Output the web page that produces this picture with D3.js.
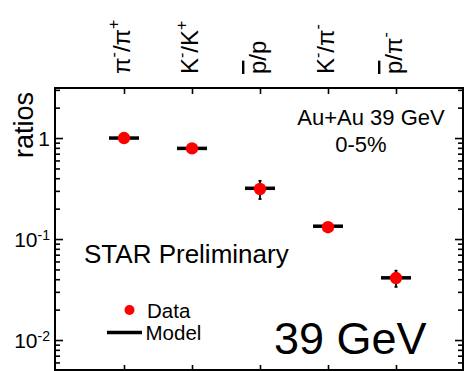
<!DOCTYPE html>
<html><head><meta charset="utf-8">
<script src="https://cdn.jsdelivr.net/npm/d3@7"></script>
<style>
html,body{margin:0;padding:0;background:#fff;}
svg{display:block;font-family:"Liberation Sans",Arial,Helvetica,sans-serif;}
</style></head><body>
<svg id="chart" width="465" height="371"></svg>
<script>
// Particle ratios, Au+Au 39 GeV, 0-5% central
const categories = ["pim_pip", "km_kp", "pbar_p", "km_pim", "pbar_pim"];
const categoryLabels = ["π^{-}/π^{+}", "K^{-}/K^{+}", "#bar{p}/p", "K^{-}/π^{-}", "#bar{p}/π^{-}"];
const dataValues = [1.0, 0.79, 0.313, 0.131, 0.0411];
const dataErrors = [0.02, 0.015, 0.064, 0.006, 0.0075];
const modelValues = [1.0, 0.79, 0.318, 0.134, 0.0413];
const yMajorTicks = [1, 0.1, 0.01];
const yTickLabels = ["1", "10^{-1}", "10^{-2}"];

const plot = {left: 55, right: 463, top: 88, bottom: 370};

const x = d3.scalePoint().domain(categories).range([56, 464]).padding(1);
const y = d3.scaleLog().domain([0.00505, 3.13]).range([plot.bottom, plot.top]);

// minor ticks: 2..9 within each decade inside the domain
const yMinorTicks = [];
for (let e = -3; e <= 0; e++) {
  for (let m = 2; m <= 9; m++) {
    const v = m * Math.pow(10, e);
    if (v >= y.domain()[0] && v <= y.domain()[1]) yMinorTicks.push(v);
  }
}

const svg = d3.select("#chart");

// split "a^{b}#bar{c}" markup into plain / superscript / overlined runs
function parseLabel(s) {
  const out = [];
  const re = /\^\{([^}]*)\}|#bar\{([^}]*)\}|([^\^#]+)/g;
  let m;
  while ((m = re.exec(s)) !== null) {
    if (m[1] !== undefined) out.push({t: m[1], sup: true});
    else if (m[2] !== undefined) out.push({t: m[2], bar: true});
    else out.push({t: m[3]});
  }
  return out;
}
function writeRich(textSel, label, supSize, supRise) {
  let raised = false;
  parseLabel(label).forEach(seg => {
    const ts = textSel.append("tspan").text(seg.t);
    if (seg.sup) {
      ts.attr("font-size", supSize).attr("dy", raised ? 0 : -supRise);
      raised = true;
    } else {
      if (raised) { ts.attr("dy", supRise); raised = false; }
      if (seg.bar) ts.style("text-decoration", "overline");
    }
  });
}

function styleAxis(g) {
  g.select(".domain").remove();
  g.selectAll(".tick line").attr("stroke", "#000").attr("stroke-width", 1.6);
  g.selectAll(".tick text").remove();
}

// y axes, ticks pointing inward on both sides
svg.append("g").attr("transform", `translate(${plot.left},0)`)
  .call(d3.axisLeft(y).tickValues(yMajorTicks).tickSize(-8)).call(styleAxis);
svg.append("g").attr("transform", `translate(${plot.left},0)`)
  .call(d3.axisLeft(y).tickValues(yMinorTicks).tickSize(-5)).call(styleAxis);
svg.append("g").attr("transform", `translate(${plot.right},0)`)
  .call(d3.axisRight(y).tickValues(yMajorTicks).tickSize(-8)).call(styleAxis);
svg.append("g").attr("transform", `translate(${plot.right},0)`)
  .call(d3.axisRight(y).tickValues(yMinorTicks).tickSize(-5)).call(styleAxis);

// x axes top and bottom
svg.append("g").attr("transform", `translate(0,${plot.top})`)
  .call(d3.axisTop(x).tickSize(-6)).call(styleAxis);
svg.append("g").attr("transform", `translate(0,${plot.bottom})`)
  .call(d3.axisBottom(x).tickSize(-5)).call(styleAxis);

// frame
svg.append("rect")
  .attr("x", plot.left).attr("y", plot.top)
  .attr("width", plot.right - plot.left).attr("height", plot.bottom - plot.top)
  .attr("fill", "none").attr("stroke", "#000").attr("stroke-width", 2);

// y tick labels
yMajorTicks.forEach((v, i) => {
  const t = svg.append("text")
    .attr("x", 50).attr("y", y(v) + 7.5)
    .attr("text-anchor", "end").attr("font-size", 21).attr("fill", "#000");
  writeRich(t, yTickLabels[i], 14, 7);
});

// y axis title
svg.append("text")
  .attr("transform", "translate(33,125) rotate(-90)")
  .attr("text-anchor", "middle").attr("font-size", 27).text("ratios");

// category labels along the top, rotated
categories.forEach((c, i) => {
  const t = svg.append("text")
    .attr("transform", `translate(${x(c) + 6},74) rotate(-90)`)
    .attr("text-anchor", "start").attr("font-size", 24).attr("fill", "#000");
  writeRich(t, categoryLabels[i], 16, 11);
});

// model values: short horizontal bars
svg.append("g").selectAll("line").data(categories).join("line")
  .attr("x1", c => x(c) - 15).attr("x2", c => x(c) + 15)
  .attr("y1", (c, i) => y(modelValues[i])).attr("y2", (c, i) => y(modelValues[i]))
  .attr("stroke", "#000").attr("stroke-width", 3.5);

// data error bars
const eb = svg.append("g").attr("stroke", "#000");
categories.forEach((c, i) => {
  const lo = y(dataValues[i] - dataErrors[i]), hi = y(dataValues[i] + dataErrors[i]);
  eb.append("line").attr("x1", x(c)).attr("x2", x(c)).attr("y1", lo).attr("y2", hi).attr("stroke-width", 1.8);
  eb.append("line").attr("x1", x(c) - 1.5).attr("x2", x(c) + 1.5).attr("y1", lo).attr("y2", lo).attr("stroke-width", 1.8);
  eb.append("line").attr("x1", x(c) - 1.5).attr("x2", x(c) + 1.5).attr("y1", hi).attr("y2", hi).attr("stroke-width", 1.8);
});

// data markers
svg.append("g").selectAll("circle").data(categories).join("circle")
  .attr("cx", c => x(c)).attr("cy", (c, i) => y(dataValues[i]))
  .attr("r", 6.2).attr("fill", "#ff0000");

// annotations
svg.append("text").attr("x", 371).attr("y", 125).attr("text-anchor", "middle")
  .attr("font-size", 22).text("Au+Au 39 GeV");
svg.append("text").attr("x", 361).attr("y", 152).attr("text-anchor", "middle")
  .attr("font-size", 22).text("0-5%");
svg.append("text").attr("x", 84).attr("y", 263)
  .attr("font-size", 26).text("STAR Preliminary");
svg.append("text").attr("x", 274).attr("y", 354)
  .attr("font-size", 45).text("39 GeV");

// legend
const legend = svg.append("g");
legend.append("circle").attr("cx", 129.5).attr("cy", 310).attr("r", 5).attr("fill", "#ff0000");
legend.append("text").attr("x", 147).attr("y", 317.5).attr("font-size", 20.5).text("Data");
legend.append("line").attr("x1", 107).attr("x2", 142).attr("y1", 332.5).attr("y2", 332.5)
  .attr("stroke", "#000").attr("stroke-width", 3.5);
legend.append("text").attr("x", 145.5).attr("y", 340).attr("font-size", 20.5).text("Model");
</script>
</body></html>
